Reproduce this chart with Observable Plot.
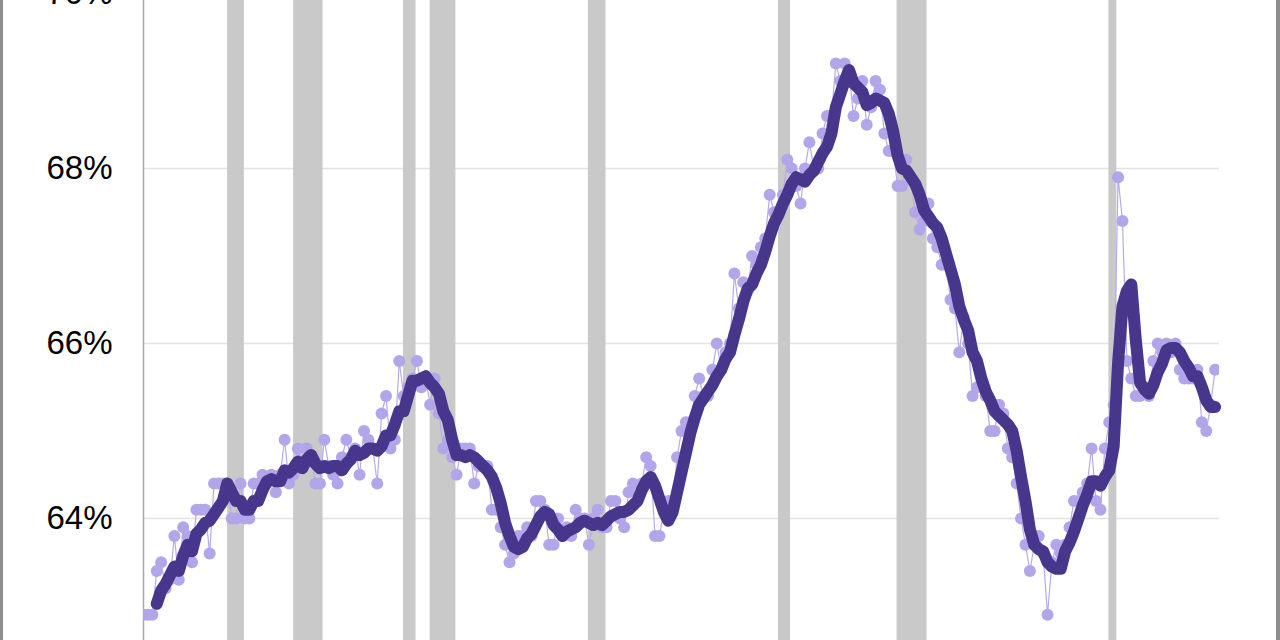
<!DOCTYPE html>
<html>
<head>
<meta charset="utf-8">
<script src="https://cdn.jsdelivr.net/npm/d3@7"></script>
<script src="https://cdn.jsdelivr.net/npm/@observablehq/plot@0.6"></script>
<style>
  html, body { margin: 0; padding: 0; background: #fff; overflow: hidden; }
  #wrap { position: relative; width: 1280px; height: 640px; overflow: hidden; }
  #chart { position: absolute; left: 0; top: -27px; }
  .edge { position: absolute; top: 0; width: 3px; height: 640px; background: #8e8e8e; }
</style>
</head>
<body>
<div id="wrap">
  <div id="chart"></div>
  <div class="edge" style="left:0"></div>
  <div class="edge" style="right:0;width:4px"></div>
</div>
<script>
// Quarterly homeownership rate (%), starting 1965 Q1
const firstYear = 1965;
const rate = [
  62.9, 62.9, 62.9, 63.4, // 1965
  63.5, 63.2, 63.3, 63.8, // 1966
  63.3, 63.9, 63.8, 63.5, // 1967
  64.1, 64.1, 64.1, 63.6, // 1968
  64.4, 64.4, 64.4, 64.4, // 1969
  64.0, 64.0, 64.4, 64.0, // 1970
  64.0, 64.4, 64.4, 64.5, // 1971
  64.4, 64.5, 64.3, 64.5, // 1972
  64.9, 64.4, 64.5, 64.8, // 1973
  64.6, 64.8, 64.7, 64.4, // 1974
  64.4, 64.9, 64.6, 64.5, // 1975
  64.4, 64.7, 64.9, 64.7, // 1976
  64.8, 64.5, 65.0, 64.9, // 1977
  64.8, 64.4, 65.2, 65.4, // 1978
  64.8, 64.9, 65.8, 65.4, // 1979
  65.5, 65.6, 65.8, 65.5, // 1980
  65.6, 65.3, 65.6, 65.2, // 1981
  64.8, 64.9, 64.7, 64.5, // 1982
  64.8, 64.8, 64.8, 64.4, // 1983
  64.6, 64.6, 64.6, 64.1, // 1984
  64.1, 63.9, 63.7, 63.5, // 1985
  63.6, 63.8, 63.8, 63.9, // 1986
  63.8, 64.2, 64.2, 64.1, // 1987
  63.7, 63.7, 64.0, 63.8, // 1988
  63.9, 63.8, 64.1, 64.0, // 1989
  64.0, 63.7, 64.0, 64.1, // 1990
  63.9, 63.9, 64.2, 64.2, // 1991
  64.0, 63.9, 64.3, 64.4, // 1992
  64.2, 64.4, 64.7, 64.6, // 1993
  63.8, 63.8, 64.1, 64.2, // 1994
  64.2, 64.7, 65.0, 65.1, // 1995
  65.1, 65.4, 65.6, 65.4, // 1996
  65.4, 65.7, 66.0, 65.7, // 1997
  65.9, 66.0, 66.8, 66.4, // 1998
  66.7, 66.6, 67.0, 66.9, // 1999
  67.1, 67.2, 67.7, 67.5, // 2000
  67.5, 67.7, 68.1, 68.0, // 2001
  67.8, 67.6, 68.0, 68.3, // 2002
  68.0, 68.0, 68.4, 68.6, // 2003
  68.6, 69.2, 69.0, 69.2, // 2004
  69.1, 68.6, 68.8, 69.0, // 2005
  68.5, 68.7, 69.0, 68.9, // 2006
  68.4, 68.2, 68.2, 67.8, // 2007
  67.8, 68.1, 67.9, 67.5, // 2008
  67.3, 67.4, 67.6, 67.2, // 2009
  67.1, 66.9, 66.9, 66.5, // 2010
  66.4, 65.9, 66.3, 66.0, // 2011
  65.4, 65.5, 65.5, 65.4, // 2012
  65.0, 65.0, 65.3, 65.2, // 2013
  64.8, 64.7, 64.4, 64.0, // 2014
  63.7, 63.4, 63.7, 63.8, // 2015
  63.6, 62.9, 63.5, 63.7, // 2016
  63.6, 63.7, 63.9, 64.2, // 2017
  64.2, 64.3, 64.4, 64.8, // 2018
  64.2, 64.1, 64.8, 65.1, // 2019
  65.3, 67.9, 67.4, 65.8, // 2020
  65.6, 65.4, 65.4, 65.5, // 2021
  65.4, 65.8, 66.0, 65.9, // 2022
  66.0, 65.9, 66.0, 65.7, // 2023
  65.6, 65.6, 65.6, 65.7, // 2024
  65.1, 65.0, 65.3, 65.7  // 2025
];

// Recession shading (decimal years)
const recessionStart = [1969.77, 1973.51, 1979.74, 1981.25, 1990.22, 2001.0, 2007.72, 2019.73];
const recessionEnd   = [1970.72, 1975.18, 1980.45, 1982.71, 1991.22, 2001.68, 2009.42, 2020.18];

const yTicks = [64, 66, 68, 70];
const xDomain = [1965, 2026];

// Build tables
const data = rate.map((v, i) => ({date: firstYear + i / 4, rate: v}));
const avg = [];
for (let i = 3; i < rate.length; i++) {
  avg.push({date: data[i].date, rate: d3.mean(rate.slice(i - 3, i + 1))});
}
const recessions = recessionStart.map((s, i) => ({start: s, end: recessionEnd[i]}));

const chart = Plot.plot({
  width: 1280,
  height: 740,
  marginTop: 20,
  marginBottom: 20,
  marginLeft: 143,
  marginRight: 61,
  x: {domain: xDomain, axis: null},
  y: {domain: [62, 70], axis: null, label: null},
  style: {fontFamily: "'Liberation Sans', Arial, Helvetica, sans-serif", fontSize: "33px", background: "transparent", overflow: "visible"},
  marks: [
    Plot.gridY(yTicks, {stroke: "#e2e2e2", strokeOpacity: 1, strokeWidth: 1.5}),
    Plot.rect(recessions, {x1: "start", x2: "end", fill: "#c9c9c9"}),
    Plot.ruleX([xDomain[0]], {stroke: "#a8a8a8", strokeWidth: 1.5}),
    Plot.axisY(yTicks, {tickFormat: d => d + "%", tickSize: 0, tickPadding: 31, fill: "#000", label: null}),
    Plot.line(data, {x: "date", y: "rate", stroke: "#b7aaec", strokeWidth: 1.2, clip: true}),
    Plot.dot(data, {x: "date", y: "rate", r: 6, fill: "#b2a5ea", stroke: "none", clip: true}),
    Plot.line(avg, {x: "date", y: "rate", stroke: "#47368b", strokeWidth: 12, strokeLinecap: "round", strokeLinejoin: "round"})
  ]
});
document.getElementById("chart").appendChild(chart);
</script>
</body>
</html>
